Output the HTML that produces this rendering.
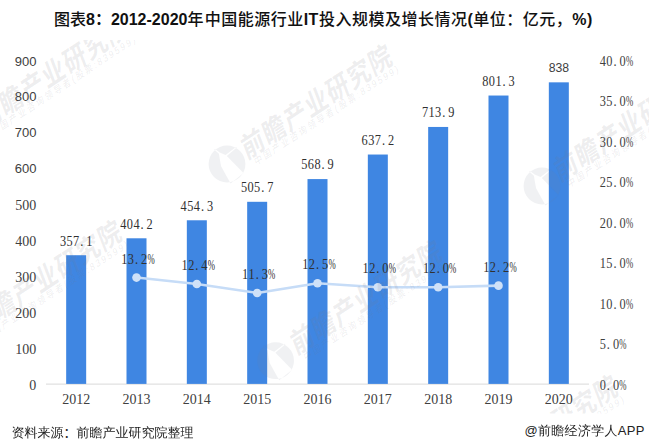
<!DOCTYPE html>
<html><head><meta charset="utf-8"><style>
html,body{margin:0;padding:0;background:#fff;}
body{width:649px;height:442px;overflow:hidden;position:relative;}
svg{position:absolute;left:0;top:0;}
.vl{font-family:"Liberation Serif",serif;font-size:14.5px;fill:#303030;}
.xl{font-family:"Liberation Serif",serif;font-size:14px;fill:#404040;}
.ls{font-family:"Liberation Sans",sans-serif;font-size:13px;fill:#404040;}
.lr{font-family:"Liberation Serif",serif;font-size:14px;fill:#404040;}
.ra{font-family:"Liberation Serif",serif;font-size:14.5px;fill:#404040;}
.wmb{font-family:"Liberation Sans","Noto Sans CJK SC",sans-serif;font-weight:bold;font-size:22.5px;letter-spacing:1.2px;fill:rgba(120,120,130,0.135);}
.wms{font-family:"Liberation Sans","Noto Sans CJK SC",sans-serif;font-size:8px;fill:rgba(120,120,130,0.135);}
.wml{fill:rgba(120,125,150,0.11);}
.title{position:absolute;left:54px;top:6.3px;font-family:"Liberation Sans","Noto Sans CJK SC",sans-serif;font-weight:bold;font-size:16px;color:#111;white-space:nowrap;}
.title .m{font-weight:500;}
.title .b{letter-spacing:0.5px;margin-left:1.2px;}
.src{position:absolute;left:11.5px;top:422px;font-family:"WenQuanYi Zen Hei",sans-serif;font-size:13px;color:#222;white-space:nowrap;}
.src .c{font-family:"Noto Sans CJK SC",sans-serif;}
.app{position:absolute;left:524.5px;top:422px;letter-spacing:0.3px;font-family:"Liberation Sans","WenQuanYi Zen Hei",sans-serif;font-size:13px;color:#222;white-space:nowrap;}
</style></head><body>
<div class="title"><span class="m">图表</span>8：2012-2020<span class="m">年</span><span class="b"><span class="m">中国能源行业</span>IT<span class="m">投入规模及增长情况</span>(<span class="m">单位：亿元，</span>%)</span></div>
<svg width="649" height="442" viewBox="0 0 649 442">
<rect x="46.0" y="383.6" width="543.0" height="1" fill="#d9d9d9"/>
<rect x="66.17" y="255.22" width="20" height="128.68" fill="#3f86e2"/>
<rect x="126.50" y="238.29" width="20" height="145.61" fill="#3f86e2"/>
<rect x="186.83" y="220.28" width="20" height="163.62" fill="#3f86e2"/>
<rect x="247.17" y="201.80" width="20" height="182.10" fill="#3f86e2"/>
<rect x="307.50" y="179.08" width="20" height="204.82" fill="#3f86e2"/>
<rect x="367.83" y="154.53" width="20" height="229.37" fill="#3f86e2"/>
<rect x="428.17" y="126.95" width="20" height="256.95" fill="#3f86e2"/>
<rect x="488.50" y="95.53" width="20" height="288.37" fill="#3f86e2"/>
<rect x="548.83" y="82.34" width="20" height="301.56" fill="#3f86e2"/>
<text class="vl" transform="translate(62.97,245.62) scale(0.85,1)" text-anchor="middle">3</text>
<text class="vl" transform="translate(69.57,245.62) scale(0.85,1)" text-anchor="middle">5</text>
<text class="vl" transform="translate(76.17,245.62) scale(0.85,1)" text-anchor="middle">7</text>
<text class="vl" transform="translate(81.77,245.62) scale(0.85,1)" text-anchor="middle">.</text>
<text class="vl" transform="translate(89.37,245.62) scale(0.85,1)" text-anchor="middle">1</text>
<text class="vl" transform="translate(123.30,228.69) scale(0.85,1)" text-anchor="middle">4</text>
<text class="vl" transform="translate(129.90,228.69) scale(0.85,1)" text-anchor="middle">0</text>
<text class="vl" transform="translate(136.50,228.69) scale(0.85,1)" text-anchor="middle">4</text>
<text class="vl" transform="translate(142.10,228.69) scale(0.85,1)" text-anchor="middle">.</text>
<text class="vl" transform="translate(149.70,228.69) scale(0.85,1)" text-anchor="middle">2</text>
<text class="vl" transform="translate(183.63,210.68) scale(0.85,1)" text-anchor="middle">4</text>
<text class="vl" transform="translate(190.23,210.68) scale(0.85,1)" text-anchor="middle">5</text>
<text class="vl" transform="translate(196.83,210.68) scale(0.85,1)" text-anchor="middle">4</text>
<text class="vl" transform="translate(202.43,210.68) scale(0.85,1)" text-anchor="middle">.</text>
<text class="vl" transform="translate(210.03,210.68) scale(0.85,1)" text-anchor="middle">3</text>
<text class="vl" transform="translate(243.97,192.20) scale(0.85,1)" text-anchor="middle">5</text>
<text class="vl" transform="translate(250.57,192.20) scale(0.85,1)" text-anchor="middle">0</text>
<text class="vl" transform="translate(257.17,192.20) scale(0.85,1)" text-anchor="middle">5</text>
<text class="vl" transform="translate(262.77,192.20) scale(0.85,1)" text-anchor="middle">.</text>
<text class="vl" transform="translate(270.37,192.20) scale(0.85,1)" text-anchor="middle">7</text>
<text class="vl" transform="translate(304.30,169.48) scale(0.85,1)" text-anchor="middle">5</text>
<text class="vl" transform="translate(310.90,169.48) scale(0.85,1)" text-anchor="middle">6</text>
<text class="vl" transform="translate(317.50,169.48) scale(0.85,1)" text-anchor="middle">8</text>
<text class="vl" transform="translate(323.10,169.48) scale(0.85,1)" text-anchor="middle">.</text>
<text class="vl" transform="translate(330.70,169.48) scale(0.85,1)" text-anchor="middle">9</text>
<text class="vl" transform="translate(364.63,144.93) scale(0.85,1)" text-anchor="middle">6</text>
<text class="vl" transform="translate(371.23,144.93) scale(0.85,1)" text-anchor="middle">3</text>
<text class="vl" transform="translate(377.83,144.93) scale(0.85,1)" text-anchor="middle">7</text>
<text class="vl" transform="translate(383.43,144.93) scale(0.85,1)" text-anchor="middle">.</text>
<text class="vl" transform="translate(391.03,144.93) scale(0.85,1)" text-anchor="middle">2</text>
<text class="vl" transform="translate(424.97,117.35) scale(0.85,1)" text-anchor="middle">7</text>
<text class="vl" transform="translate(431.57,117.35) scale(0.85,1)" text-anchor="middle">1</text>
<text class="vl" transform="translate(438.17,117.35) scale(0.85,1)" text-anchor="middle">3</text>
<text class="vl" transform="translate(443.77,117.35) scale(0.85,1)" text-anchor="middle">.</text>
<text class="vl" transform="translate(451.37,117.35) scale(0.85,1)" text-anchor="middle">9</text>
<text class="vl" transform="translate(485.30,85.93) scale(0.85,1)" text-anchor="middle">8</text>
<text class="vl" transform="translate(491.90,85.93) scale(0.85,1)" text-anchor="middle">0</text>
<text class="vl" transform="translate(498.50,85.93) scale(0.85,1)" text-anchor="middle">1</text>
<text class="vl" transform="translate(504.10,85.93) scale(0.85,1)" text-anchor="middle">.</text>
<text class="vl" transform="translate(511.70,85.93) scale(0.85,1)" text-anchor="middle">3</text>
<text class="ls" transform="translate(558.83,72.14) scale(0.94,1)" text-anchor="middle">838</text>
<polyline fill="none" stroke="#c6dcf7" stroke-width="2.6" stroke-linejoin="round" points="136.50,277.58 196.83,284.05 257.17,292.94 317.50,283.24 377.83,287.28 438.17,287.28 498.50,285.66"/>
<circle cx="136.50" cy="277.58" r="4.3" fill="#cfe1f8"/>
<circle cx="196.83" cy="284.05" r="4.3" fill="#cfe1f8"/>
<circle cx="257.17" cy="292.94" r="4.3" fill="#cfe1f8"/>
<circle cx="317.50" cy="283.24" r="4.3" fill="#cfe1f8"/>
<circle cx="377.83" cy="287.28" r="4.3" fill="#cfe1f8"/>
<circle cx="438.17" cy="287.28" r="4.3" fill="#cfe1f8"/>
<circle cx="498.50" cy="285.66" r="4.3" fill="#cfe1f8"/>
<text class="vl" transform="translate(124.30,263.78) scale(0.85,1)" text-anchor="middle">1</text>
<text class="vl" transform="translate(130.90,263.78) scale(0.85,1)" text-anchor="middle">3</text>
<text class="vl" transform="translate(136.50,263.78) scale(0.85,1)" text-anchor="middle">.</text>
<text class="vl" transform="translate(144.10,263.78) scale(0.85,1)" text-anchor="middle">2</text>
<text class="vl" transform="translate(151.00,263.78) scale(0.6,1)" text-anchor="middle">%</text>
<text class="vl" transform="translate(184.63,270.25) scale(0.85,1)" text-anchor="middle">1</text>
<text class="vl" transform="translate(191.23,270.25) scale(0.85,1)" text-anchor="middle">2</text>
<text class="vl" transform="translate(196.83,270.25) scale(0.85,1)" text-anchor="middle">.</text>
<text class="vl" transform="translate(204.43,270.25) scale(0.85,1)" text-anchor="middle">4</text>
<text class="vl" transform="translate(211.33,270.25) scale(0.6,1)" text-anchor="middle">%</text>
<text class="vl" transform="translate(244.97,279.14) scale(0.85,1)" text-anchor="middle">1</text>
<text class="vl" transform="translate(251.57,279.14) scale(0.85,1)" text-anchor="middle">1</text>
<text class="vl" transform="translate(257.17,279.14) scale(0.85,1)" text-anchor="middle">.</text>
<text class="vl" transform="translate(264.77,279.14) scale(0.85,1)" text-anchor="middle">3</text>
<text class="vl" transform="translate(271.67,279.14) scale(0.6,1)" text-anchor="middle">%</text>
<text class="vl" transform="translate(305.30,269.44) scale(0.85,1)" text-anchor="middle">1</text>
<text class="vl" transform="translate(311.90,269.44) scale(0.85,1)" text-anchor="middle">2</text>
<text class="vl" transform="translate(317.50,269.44) scale(0.85,1)" text-anchor="middle">.</text>
<text class="vl" transform="translate(325.10,269.44) scale(0.85,1)" text-anchor="middle">5</text>
<text class="vl" transform="translate(332.00,269.44) scale(0.6,1)" text-anchor="middle">%</text>
<text class="vl" transform="translate(365.63,273.48) scale(0.85,1)" text-anchor="middle">1</text>
<text class="vl" transform="translate(372.23,273.48) scale(0.85,1)" text-anchor="middle">2</text>
<text class="vl" transform="translate(377.83,273.48) scale(0.85,1)" text-anchor="middle">.</text>
<text class="vl" transform="translate(385.43,273.48) scale(0.85,1)" text-anchor="middle">0</text>
<text class="vl" transform="translate(392.33,273.48) scale(0.6,1)" text-anchor="middle">%</text>
<text class="vl" transform="translate(425.97,273.48) scale(0.85,1)" text-anchor="middle">1</text>
<text class="vl" transform="translate(432.57,273.48) scale(0.85,1)" text-anchor="middle">2</text>
<text class="vl" transform="translate(438.17,273.48) scale(0.85,1)" text-anchor="middle">.</text>
<text class="vl" transform="translate(445.77,273.48) scale(0.85,1)" text-anchor="middle">0</text>
<text class="vl" transform="translate(452.67,273.48) scale(0.6,1)" text-anchor="middle">%</text>
<text class="vl" transform="translate(486.30,271.86) scale(0.85,1)" text-anchor="middle">1</text>
<text class="vl" transform="translate(492.90,271.86) scale(0.85,1)" text-anchor="middle">2</text>
<text class="vl" transform="translate(498.50,271.86) scale(0.85,1)" text-anchor="middle">.</text>
<text class="vl" transform="translate(506.10,271.86) scale(0.85,1)" text-anchor="middle">2</text>
<text class="vl" transform="translate(513.00,271.86) scale(0.6,1)" text-anchor="middle">%</text>
<text class="xl" x="76.17" y="404" text-anchor="middle">2012</text>
<text class="xl" x="136.50" y="404" text-anchor="middle">2013</text>
<text class="xl" x="196.83" y="404" text-anchor="middle">2014</text>
<text class="xl" x="257.17" y="404" text-anchor="middle">2015</text>
<text class="xl" x="317.50" y="404" text-anchor="middle">2016</text>
<text class="xl" x="377.83" y="404" text-anchor="middle">2017</text>
<text class="xl" x="438.17" y="404" text-anchor="middle">2018</text>
<text class="xl" x="498.50" y="404" text-anchor="middle">2019</text>
<text class="xl" x="558.83" y="404" text-anchor="middle">2020</text>
<text class="ls" x="36.5" y="65.50" text-anchor="end">900</text>
<text class="ls" x="36.5" y="101.43" text-anchor="end">800</text>
<text class="ls" x="36.5" y="137.37" text-anchor="end">700</text>
<text class="ls" x="36.5" y="173.30" text-anchor="end">600</text>
<text class="lr" x="36.2" y="210.43" text-anchor="end">500</text>
<text class="lr" x="36.2" y="246.37" text-anchor="end">400</text>
<text class="lr" x="36.2" y="282.30" text-anchor="end">300</text>
<text class="lr" x="36.2" y="318.23" text-anchor="end">200</text>
<text class="lr" x="36.2" y="354.17" text-anchor="end">100</text>
<text class="lr" x="36.2" y="390.10" text-anchor="end">0</text>
<text class="ra" transform="translate(602.80,65.50) scale(0.85,1)" text-anchor="middle">4</text>
<text class="ra" transform="translate(609.40,65.50) scale(0.85,1)" text-anchor="middle">0</text>
<text class="ra" transform="translate(615.00,65.50) scale(0.85,1)" text-anchor="middle">.</text>
<text class="ra" transform="translate(622.60,65.50) scale(0.85,1)" text-anchor="middle">0</text>
<text class="ra" transform="translate(629.50,65.50) scale(0.6,1)" text-anchor="middle">%</text>
<text class="ra" transform="translate(602.80,106.00) scale(0.85,1)" text-anchor="middle">3</text>
<text class="ra" transform="translate(609.40,106.00) scale(0.85,1)" text-anchor="middle">5</text>
<text class="ra" transform="translate(615.00,106.00) scale(0.85,1)" text-anchor="middle">.</text>
<text class="ra" transform="translate(622.60,106.00) scale(0.85,1)" text-anchor="middle">0</text>
<text class="ra" transform="translate(629.50,106.00) scale(0.6,1)" text-anchor="middle">%</text>
<text class="ra" transform="translate(602.80,146.50) scale(0.85,1)" text-anchor="middle">3</text>
<text class="ra" transform="translate(609.40,146.50) scale(0.85,1)" text-anchor="middle">0</text>
<text class="ra" transform="translate(615.00,146.50) scale(0.85,1)" text-anchor="middle">.</text>
<text class="ra" transform="translate(622.60,146.50) scale(0.85,1)" text-anchor="middle">0</text>
<text class="ra" transform="translate(629.50,146.50) scale(0.6,1)" text-anchor="middle">%</text>
<text class="ra" transform="translate(602.80,187.00) scale(0.85,1)" text-anchor="middle">2</text>
<text class="ra" transform="translate(609.40,187.00) scale(0.85,1)" text-anchor="middle">5</text>
<text class="ra" transform="translate(615.00,187.00) scale(0.85,1)" text-anchor="middle">.</text>
<text class="ra" transform="translate(622.60,187.00) scale(0.85,1)" text-anchor="middle">0</text>
<text class="ra" transform="translate(629.50,187.00) scale(0.6,1)" text-anchor="middle">%</text>
<text class="ra" transform="translate(602.80,227.50) scale(0.85,1)" text-anchor="middle">2</text>
<text class="ra" transform="translate(609.40,227.50) scale(0.85,1)" text-anchor="middle">0</text>
<text class="ra" transform="translate(615.00,227.50) scale(0.85,1)" text-anchor="middle">.</text>
<text class="ra" transform="translate(622.60,227.50) scale(0.85,1)" text-anchor="middle">0</text>
<text class="ra" transform="translate(629.50,227.50) scale(0.6,1)" text-anchor="middle">%</text>
<text class="ra" transform="translate(602.80,268.00) scale(0.85,1)" text-anchor="middle">1</text>
<text class="ra" transform="translate(609.40,268.00) scale(0.85,1)" text-anchor="middle">5</text>
<text class="ra" transform="translate(615.00,268.00) scale(0.85,1)" text-anchor="middle">.</text>
<text class="ra" transform="translate(622.60,268.00) scale(0.85,1)" text-anchor="middle">0</text>
<text class="ra" transform="translate(629.50,268.00) scale(0.6,1)" text-anchor="middle">%</text>
<text class="ra" transform="translate(602.80,308.50) scale(0.85,1)" text-anchor="middle">1</text>
<text class="ra" transform="translate(609.40,308.50) scale(0.85,1)" text-anchor="middle">0</text>
<text class="ra" transform="translate(615.00,308.50) scale(0.85,1)" text-anchor="middle">.</text>
<text class="ra" transform="translate(622.60,308.50) scale(0.85,1)" text-anchor="middle">0</text>
<text class="ra" transform="translate(629.50,308.50) scale(0.6,1)" text-anchor="middle">%</text>
<text class="ra" transform="translate(602.80,349.00) scale(0.85,1)" text-anchor="middle">5</text>
<text class="ra" transform="translate(608.40,349.00) scale(0.85,1)" text-anchor="middle">.</text>
<text class="ra" transform="translate(616.00,349.00) scale(0.85,1)" text-anchor="middle">0</text>
<text class="ra" transform="translate(622.90,349.00) scale(0.6,1)" text-anchor="middle">%</text>
<text class="ra" transform="translate(602.80,389.50) scale(0.85,1)" text-anchor="middle">0</text>
<text class="ra" transform="translate(608.40,389.50) scale(0.85,1)" text-anchor="middle">.</text>
<text class="ra" transform="translate(616.00,389.50) scale(0.85,1)" text-anchor="middle">0</text>
<text class="ra" transform="translate(622.90,389.50) scale(0.6,1)" text-anchor="middle">%</text>
<defs><clipPath id="wmclip"><rect x="0" y="40" width="649" height="373.6"/></clipPath></defs>
<g clip-path="url(#wmclip)"><g transform="translate(317.00,101.50) scale(1,1.31) rotate(-26.7)"><text class="wmb" x="0" y="8.10" text-anchor="middle">前瞻产业研究院</text><text class="wms" x="-76.5" y="16.4" textLength="160" lengthAdjust="spacing">中国产业咨询领导者(股票:839599)</text></g>
<g transform="translate(630.00,124.00) scale(1,1.31) rotate(-26.7)"><text class="wmb" x="0" y="8.10" text-anchor="middle">前瞻产业研究院</text><text class="wms" x="-76.5" y="16.4" textLength="160" lengthAdjust="spacing">中国产业咨询领导者(股票:839599)</text></g>
<g transform="translate(366.50,297.00) scale(1,1.31) rotate(-26.7)"><text class="wmb" x="0" y="8.10" text-anchor="middle">前瞻产业研究院</text><text class="wms" x="-76.5" y="16.4" textLength="160" lengthAdjust="spacing">中国产业咨询领导者(股票:839599)</text></g>
<g transform="translate(54.00,72.00) scale(1,1.31) rotate(-26.7)"><text class="wmb" x="0" y="8.10" text-anchor="middle">前瞻产业研究院</text><text class="wms" x="-76.5" y="16.4" textLength="160" lengthAdjust="spacing">中国产业咨询领导者(股票:839599)</text></g>
<g transform="translate(46.50,277.00) scale(1,1.31) rotate(-26.7)"><text class="wmb" x="0" y="8.10" text-anchor="middle">前瞻产业研究院</text><text class="wms" x="-76.5" y="16.4" textLength="160" lengthAdjust="spacing">中国产业咨询领导者(股票:839599)</text></g>
<g transform="translate(542.50,432.00) scale(1,1.31) rotate(-26.7)"><text class="wmb" x="0" y="8.10" text-anchor="middle">前瞻产业研究院</text><text class="wms" x="-76.5" y="16.4" textLength="160" lengthAdjust="spacing">中国产业咨询领导者(股票:839599)</text></g>
<path class="wml" fill-rule="evenodd" d="M208.60,164.00a18.4,18.4 0 1,0 36.8,0a18.4,18.4 0 1,0 -36.8,0zM214.20,149.60L215.00,148.90L219.70,152.60L225.60,155.00L236.00,147.00L236.80,147.60L226.80,156.10L243.50,173.00L230.60,183.50L221.10,166.30L220.00,160.60L218.90,153.80z"/>
<path class="wml" fill-rule="evenodd" d="M523.60,186.00a18.4,18.4 0 1,0 36.8,0a18.4,18.4 0 1,0 -36.8,0zM529.20,171.60L530.00,170.90L534.70,174.60L540.60,177.00L551.00,169.00L551.80,169.60L541.80,178.10L558.50,195.00L545.60,205.50L536.10,188.30L535.00,182.60L533.90,175.80z"/>
<path class="wml" fill-rule="evenodd" d="M257.20,360.70a18.4,18.4 0 1,0 36.8,0a18.4,18.4 0 1,0 -36.8,0zM262.80,346.30L263.60,345.60L268.30,349.30L274.20,351.70L284.60,343.70L285.40,344.30L275.40,352.80L292.10,369.70L279.20,380.20L269.70,363.00L268.60,357.30L267.50,350.50z"/></g>
</svg>
<div class="src">资料来源<span class="c">：</span>前瞻产业研究院整理</div>
<div class="app">@前瞻经济学人APP</div>
</body></html>
